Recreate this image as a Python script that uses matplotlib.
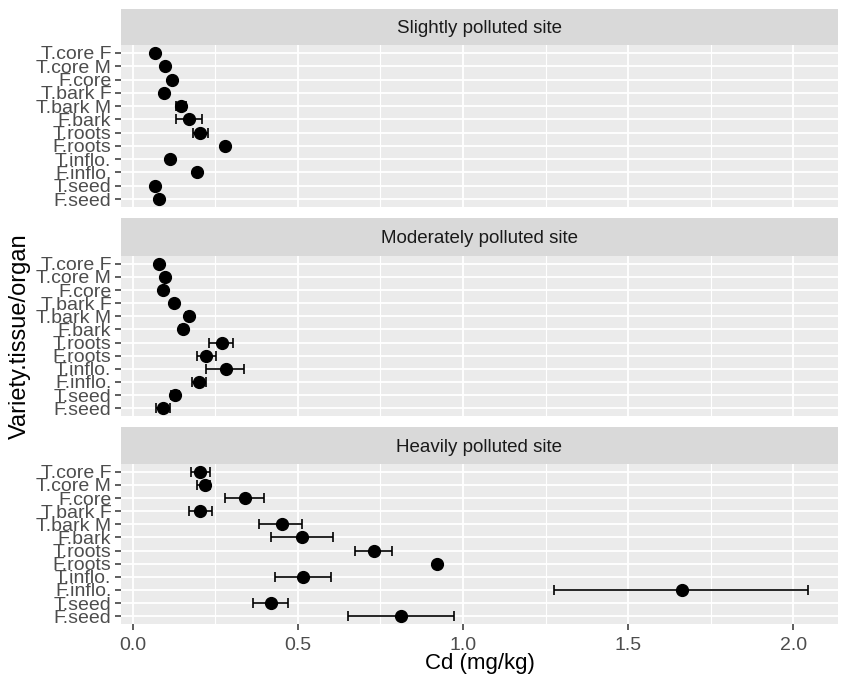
import matplotlib
matplotlib.use("Agg")
import matplotlib.pyplot as plt
import numpy as np

plt.rcParams['font.family'] = ['Liberation Sans', 'DejaVu Sans']

categories = ["T.core F", "T.core M", "F.core", "T.bark F", "T.bark M", "F.bark",
              "T.roots", "F.roots", "T.inflo.", "F.inflo.", "T.seed", "F.seed"]
sites = ["Slightly polluted site", "Moderately polluted site", "Heavily polluted site"]

slight_mean = [0.068, 0.098, 0.117, 0.093, 0.145, 0.169, 0.203, 0.280, 0.112, 0.194, 0.068, 0.080]
slight_lo   = [0.066, 0.096, 0.114, 0.090, 0.130, 0.130, 0.183, 0.278, 0.108, 0.192, 0.066, 0.078]
slight_hi   = [0.070, 0.100, 0.120, 0.096, 0.160, 0.209, 0.228, 0.282, 0.120, 0.196, 0.070, 0.082]

moder_mean = [0.080, 0.098, 0.092, 0.126, 0.170, 0.151, 0.270, 0.223, 0.281, 0.201, 0.128, 0.092]
moder_lo   = [0.078, 0.094, 0.090, 0.123, 0.160, 0.143, 0.231, 0.193, 0.223, 0.180, 0.116, 0.070]
moder_hi   = [0.082, 0.102, 0.094, 0.129, 0.180, 0.159, 0.304, 0.252, 0.337, 0.223, 0.140, 0.113]

heavy_mean = [0.203, 0.219, 0.340, 0.203, 0.451, 0.511, 0.730, 0.920, 0.516, 1.663, 0.417, 0.812]
heavy_lo   = [0.175, 0.193, 0.279, 0.169, 0.383, 0.417, 0.673, 0.917, 0.430, 1.277, 0.365, 0.651]
heavy_hi   = [0.235, 0.235, 0.398, 0.240, 0.512, 0.607, 0.784, 0.923, 0.599, 2.046, 0.469, 0.973]

data = [(slight_mean, slight_lo, slight_hi),
        (moder_mean, moder_lo, moder_hi),
        (heavy_mean, heavy_lo, heavy_hi)]

W, H = 841, 684
fig = plt.figure(figsize=(W / 100, H / 100), dpi=100)

left_px, right_px = 121, 838
panels_px = [(9, 45, 207), (218, 256, 416), (427, 464, 624)]  # strip top, panel top, panel bottom

xmin, xmax = -0.036, 2.136
ypos = np.arange(len(categories))[::-1]

for i, ((stop, ptop, pbot), (m, lo, hi)) in enumerate(zip(panels_px, data)):
    # strip
    sax = fig.add_axes([left_px / W, 1 - ptop / H, (right_px - left_px) / W, (ptop - stop) / H])
    sax.set_facecolor('#D9D9D9')
    sax.set_xticks([]); sax.set_yticks([])
    for sp in sax.spines.values():
        sp.set_visible(False)
    sax.text(0.5, 0.45, sites[i], ha='center', va='center', fontsize=13.5, color='#1A1A1A',
             transform=sax.transAxes)

    ax = fig.add_axes([left_px / W, 1 - pbot / H, (right_px - left_px) / W, (pbot - ptop) / H])
    ax.set_facecolor('#EBEBEB')
    for sp in ax.spines.values():
        sp.set_visible(False)
    ax.set_xlim(xmin, xmax)
    ax.set_ylim(-0.6, len(categories) - 1 + 0.6)
    ax.set_xticks([0, 0.5, 1.0, 1.5, 2.0])
    ax.set_xticks([0.25, 0.75, 1.25, 1.75], minor=True)
    ax.set_yticks(ypos)
    ax.set_yticklabels(categories)
    ax.grid(True, which='major', color='white', linewidth=1.3)
    ax.grid(True, which='minor', axis='x', color='white', linewidth=0.8)
    ax.set_axisbelow(True)
    m = np.array(m); lo = np.array(lo); hi = np.array(hi)
    ax.errorbar(m, ypos, xerr=[m - lo, hi - m], fmt='o', color='black', ms=8.5,
                ecolor='black', elinewidth=1.2, capsize=3.5, capthick=1.2, zorder=3)
    ax.tick_params(axis='y', which='major', length=4, width=1.1, color='#333333',
                   labelsize=14, labelcolor='#4D4D4D', pad=3)
    ax.tick_params(axis='x', which='minor', length=0)
    if i < 2:
        ax.tick_params(axis='x', which='major', length=0, labelbottom=False)
    else:
        ax.tick_params(axis='x', which='major', length=4, width=1.1, color='#333333',
                       labelsize=14, labelcolor='#4D4D4D', pad=5)
        ax.set_xlabel("Cd (mg/kg)", fontsize=16, color='black', labelpad=0)

fig.text(20 / W, 1 - 336 / H, "Variety.tissue/organ", rotation=90, ha='center', va='center',
         fontsize=17, color='black')

fig.savefig("out.png", dpi=100)
